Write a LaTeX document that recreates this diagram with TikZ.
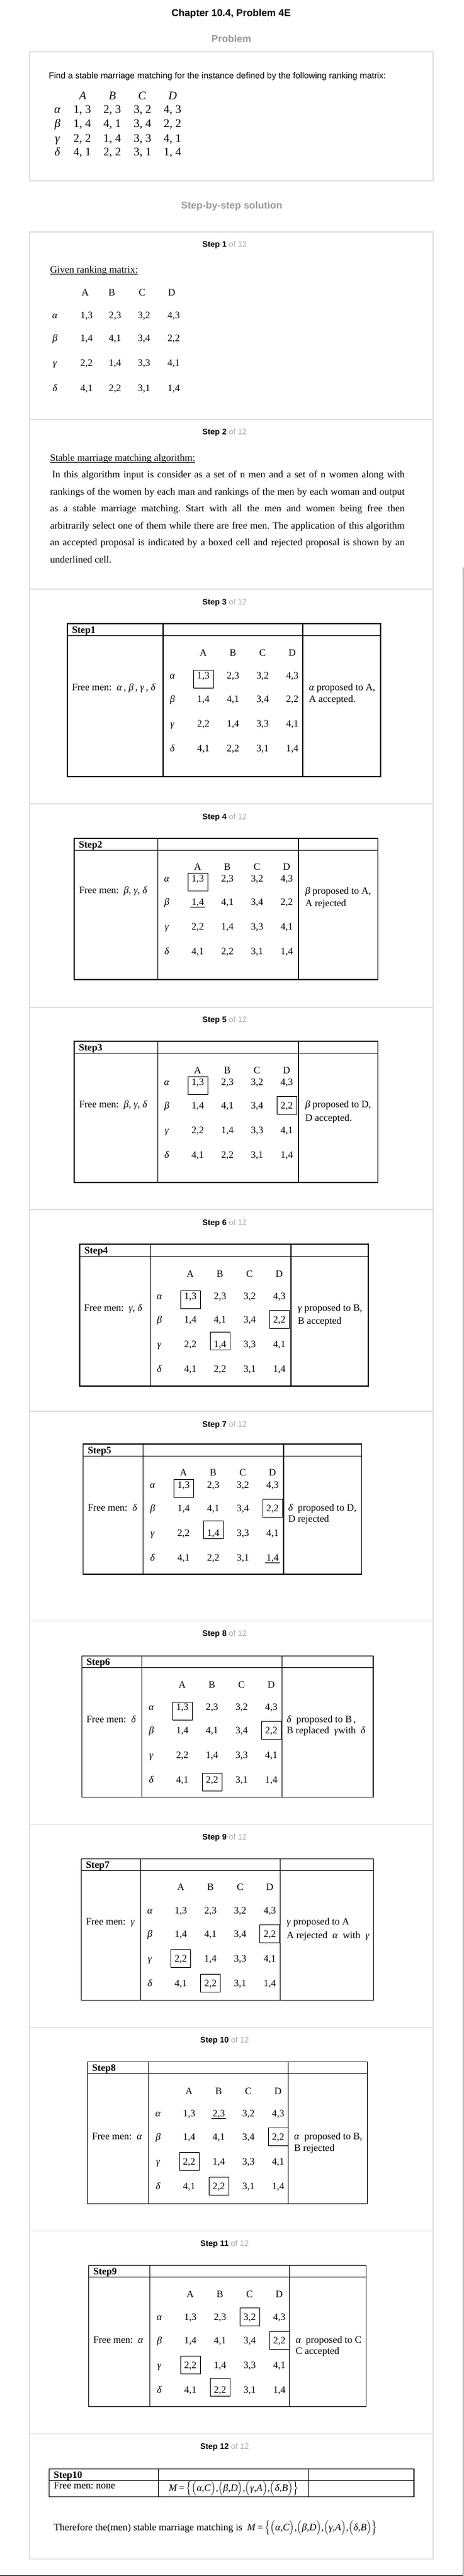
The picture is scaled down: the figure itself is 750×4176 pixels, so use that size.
\documentclass[tikz,border=0pt]{standalone}
\usepackage{fontspec}
\setmainfont{Liberation Serif}
\setsansfont{Liberation Sans}
\definecolor{framegray}{RGB}{222,222,222}
\definecolor{headgray}{RGB}{153,153,153}
\definecolor{ofgray}{RGB}{170,170,170}

\newcommand{\gk}[1]{\textit{#1}}
\newcommand{\pairtxt}[2]{#1,#2}
\newcommand{\pairsp}[2]{#1, #2}
\newcommand{\matchset}{\textit{M}\,=\,$\Big\{\Big($\gk{α},\gk{C}$\Big)$,$\Big($\gk{β},\gk{D}$\Big)$,$\Big($\gk{γ},\gk{A}$\Big)$,$\Big($\gk{δ},\gk{B}$\Big)\Big\}$}

\tikzset{
  every node/.style = {inner sep=0pt, outer sep=0pt},
  title/.style = {font=\sffamily\bfseries\fontsize{12}{14}\selectfont},
  sectionhead/.style = {font=\sffamily\bfseries\fontsize{12}{14}\selectfont, text=headgray},
  steplabel/.style = {font=\sffamily\fontsize{9.75}{12}\selectfont},
  bodytext/.style = {font=\fontsize{12}{14}\selectfont, anchor=base west},
  steptag/.style = {font=\bfseries\fontsize{12}{14}\selectfont, anchor=base west},
  cell/.style = {font=\fontsize{12}{14}\selectfont, anchor=base},
  bigcell/.style = {font=\fontsize{14.25}{16}\selectfont, anchor=base},
  frame/.style = {draw=framegray, line width=0.8pt},
  grid/.style = {draw=black, line width=0.8pt},
  cellbox/.style = {draw, line width=0.75pt, minimum width=24pt, minimum height=21.75pt},
  uline/.style = {line width=0.7pt},
}

% one ranking grid: name, x of greek column, y of row alpha, gap up to the head row
\newcommand{\rankgrid}[4]{%
  \foreach \w [count=\j] in {A,B,C,D}
    \node[cell] (#1-h\w) at ({#2+2+48*\j},{#3-#4+5.5}) {\w};
  \foreach \m/\dy/\g/\ea/\eb/\ec/\ed in
      {a/0/α/13/23/32/43, b/38/β/14/41/34/22,
       c/78/γ/22/14/33/41, d/118/δ/41/22/31/14}{
    \node[cell] (#1-\m) at (#2,{#3+\dy+5.5}) {\gk{\g}};
    \node[cell] (#1-\m A) at ({#2+50},{#3+\dy+5.5}) {\expandafter\pairtxt\ea};
    \node[cell] (#1-\m B) at ({#2+98},{#3+\dy+5.5}) {\expandafter\pairtxt\eb};
    \node[cell] (#1-\m C) at ({#2+146},{#3+\dy+5.5}) {\expandafter\pairtxt\ec};
    \node[cell] (#1-\m D) at ({#2+194},{#3+\dy+5.5}) {\expandafter\pairtxt\ed};
  }%
}
% frame of one step table: name, x1, x2, x3, x4, top, bottom, tag
\newcommand{\stepframe}[8]{%
  \draw[grid] (#2,#6) rectangle (#5,#7);
  \draw[grid] (#2,{#6+19.5}) -- (#5,{#6+19.5});
  \draw[grid] (#3,#6) -- (#3,#7) (#4,#6) -- (#4,#7);
  \node[steptag] (#1-tag) at ({#2+7.5},{#6+15}) {#8};
}
\newcommand{\boxcell}[2][0]{\node[cellbox, yshift={(5.5+#1)*0.75pt}] (#2-box) at (#2.base) {};}
\newcommand{\ulcell}[1]{\draw[uline] ([xshift=-1.5pt,yshift=-1.9pt]#1.base west) -- ([xshift=1.5pt,yshift=-1.9pt]#1.base east);}

\begin{document}
\begin{tikzpicture}[x=0.75pt, y=-0.75pt]
\fill[white] (0,0) rectangle (750,4176);
\useasboundingbox (0,0) rectangle (750,4176);

% headings and frames
\node[title] (chapter) at (374,22) {Chapter 10.4, Problem 4E};
\node[sectionhead] (problem) at (374.5,63) {Problem};
\node[sectionhead] (solution) at (375,334) {Step-by-step solution};
\draw[frame] (48,84) rectangle (701,293);
\draw[frame] (48,376) rectangle (701,4148);
\foreach \yy in {680,955,1303,1633,1961,2288,2627,2957,3286,3616,3945}
  \draw[frame] (48,\yy) -- (701,\yy);
\foreach \k/\yy in {1/397,2/701,3/977,4/1325,5/1654,6/1983,7/2310,8/2649,9/2979,10/3308,11/3638,12/3967}
  \node[steplabel] (lab\k) at (363.5,\yy) {\textbf{Step \k} \textcolor{ofgray}{of 12}};
\draw[line width=0.8pt] (749.4,920) -- (749.4,4175.4) -- (0,4175.4);

% problem
\node[bodytext, font=\sffamily\fontsize{10.5}{12}\selectfont] (ask) at (79,127.5)
  {Find a stable marriage matching for the instance defined by the following ranking matrix:};
\foreach \w/\xx in {A/134,B/182,C/230,D/279.5}
  \node[bigcell] (p-h\w) at (\xx,161.5) {\textit{\w}};
\foreach \m/\yy/\g/\ea/\eb/\ec/\ed in
    {a/183/α/13/23/32/43, b/206.5/β/14/41/34/22,
     c/230/γ/22/14/33/41, d/252/δ/41/22/31/14}{
  \node[bigcell] (p-\m) at (93,\yy) {\gk{\g}};
  \node[bigcell] (p-\m A) at (133,\yy) {\expandafter\pairsp\ea};
  \node[bigcell] (p-\m B) at (181.5,\yy) {\expandafter\pairsp\eb};
  \node[bigcell] (p-\m C) at (230.5,\yy) {\expandafter\pairsp\ec};
  \node[bigcell] (p-\m D) at (279,\yy) {\expandafter\pairsp\ed};
}

% step 1
\node[bodytext] (given) at (81,442) {Given ranking matrix:};
\draw[uline] ([yshift=-1.6pt]given.base west) -- ([yshift=-1.6pt]given.base east);
\foreach \w/\xx in {A/138,B/181,C/230,D/278}
  \node[cell] (g-h\w) at (\xx,479.5) {\w};
\foreach \m/\yy/\g/\ea/\eb/\ec/\ed in
    {a/516.5/α/13/23/32/43, b/553.5/β/14/41/34/22,
     c/593.5/γ/22/14/33/41, d/634.5/δ/41/22/31/14}{
  \node[cell] (g-\m) at (89,\yy) {\gk{\g}};
  \node[cell] (g-\m A) at (140,\yy) {\expandafter\pairtxt\ea};
  \node[cell] (g-\m B) at (186,\yy) {\expandafter\pairtxt\eb};
  \node[cell] (g-\m C) at (233,\yy) {\expandafter\pairtxt\ec};
  \node[cell] (g-\m D) at (281,\yy) {\expandafter\pairtxt\ed};
}

% step 2
\frenchspacing
\node[bodytext] (algo) at (81,747) {Stable marriage matching algorithm:};
\draw[uline] ([yshift=-1.6pt]algo.base west) -- ([yshift=-1.6pt]algo.base east);
\node[bodytext] (par1) at (81,774) {\makebox[430.5pt][s]{\hspace*{2.5pt}In this algorithm input is consider as a set of n men and a set of n women along with}};
\node[bodytext] (par2) at (81,802) {\makebox[430.5pt][s]{rankings of the women by each man and rankings of the men by each woman and output}};
\node[bodytext] (par3) at (81,829) {\makebox[430.5pt][s]{as a stable marriage matching. Start with all the men and women being free then}};
\node[bodytext] (par4) at (81,857) {\makebox[430.5pt][s]{arbitrarily select one of them while there are free men. The application of this algorithm}};
\node[bodytext] (par5) at (81,884) {\makebox[430.5pt][s]{an accepted proposal is indicated by a boxed cell and rejected proposal is shown by an}};
\node[bodytext] (par6) at (81,912) {underlined cell.};

% step 3
\stepframe{t1}{109}{264}{490}{616}{1011}{1259}{Step1}
\rankgrid{t1}{279}{1095}{37}
\boxcell[-6]{t1-aA}
\node[bodytext] (t1-free) at (116.5,1119) {Free men: \ \gk{α}\,, \gk{β}\,, \gk{γ}\,, \gk{δ}};
\node[bodytext] (t1-note) at (500,1119) {\gk{α} proposed to A,};
\node[bodytext] (t1-res) at (500,1138) {A accepted.};

% step 4
\stepframe{t2}{120}{255.5}{483}{611.5}{1359}{1588}{Step2}
\rankgrid{t2}{270}{1424}{19}
\boxcell[-6]{t2-aA}
\ulcell{t2-bA}
\node[bodytext] (t2-free) at (128,1448) {Free men: \ \gk{β}, \gk{γ}, \gk{δ}};
\node[bodytext] (t2-note) at (494,1449) {\gk{β} proposed to A,};
\node[bodytext] (t2-res) at (494,1469) {A rejected};

% step 5
\stepframe{t3}{120}{255.5}{483}{611.5}{1688}{1917}{Step3}
\rankgrid{t3}{270}{1754}{19}
\boxcell[-6]{t3-aA}
\boxcell{t3-bD}
\node[bodytext] (t3-free) at (128,1795) {Free men: \ \gk{β}, \gk{γ}, \gk{δ}};
\node[bodytext] (t3-note) at (494,1795) {\gk{β} proposed to D,};
\node[bodytext] (t3-res) at (494,1817) {D accepted.};

% step 6
\stepframe{t4}{129}{243.5}{471}{596}{2017}{2247}{Step4}
\rankgrid{t4}{258}{2101}{36}
\boxcell[-6]{t4-aA}
\boxcell{t4-bD}
\boxcell[5]{t4-cB}
\node[bodytext] (t4-free) at (136,2125) {Free men: \ \gk{γ}, \gk{δ}};
\node[bodytext] (t4-note) at (482,2125) {\gk{γ} proposed to B,};
\node[bodytext] (t4-res) at (482,2146) {B accepted};

% step 7
\stepframe{t5}{134.5}{231.6}{459}{585.6}{2341}{2552}{Step5}
\rankgrid{t5}{247}{2407}{20}
\boxcell[-6]{t5-aA}
\boxcell{t5-bD}
\boxcell[5]{t5-cB}
\ulcell{t5-dD}
\node[bodytext] (t5-free) at (142,2449) {Free men: \ \gk{δ}};
\node[bodytext] (t5-note) at (466.5,2449) {\gk{δ} \ proposed to D,};
\node[bodytext] (t5-res) at (466.5,2467) {D rejected};

% step 8
\stepframe{t6}{132.5}{229.7}{456.5}{604}{2684}{2913}{Step6}
\rankgrid{t6}{245}{2767}{36}
\boxcell[-7]{t6-aA}
\boxcell{t6-bD}
\boxcell[-4]{t6-dB}
\node[bodytext] (t6-free) at (140,2792) {Free men: \ \gk{δ}};
\node[bodytext] (t6-note) at (464,2792) {\gk{δ} \ proposed to B\,,};
\node[bodytext] (t6-res) at (464,2810) {B replaced \ \gk{γ}with \ \gk{δ}};

% step 9
\stepframe{t7}{131.6}{227.8}{453.6}{604.8}{3013}{3242}{Step7}
\rankgrid{t7}{242.6}{3097}{38}
\boxcell{t7-bD}
\boxcell{t7-cA}
\boxcell{t7-dB}
\node[bodytext] (t7-free) at (139,3120) {Free men: \ \gk{γ}};
\node[bodytext] (t7-note) at (464,3120) {\gk{γ} proposed to A};
\node[bodytext] (t7-res) at (464,3142) {A rejected \ \gk{α} \ with \ \gk{γ}};

% step 10
\stepframe{t8}{141.6}{240.7}{466.5}{594.7}{3342}{3572}{Step8}
\rankgrid{t8}{256}{3426}{36}
\boxcell{t8-bD}
\boxcell{t8-cA}
\boxcell{t8-dB}
\ulcell{t8-aB}
\node[bodytext] (t8-free) at (149,3468) {Free men: \ \gk{α}};
\node[bodytext] (t8-note) at (476,3468) {\gk{α} \ proposed to B,};
\node[bodytext] (t8-res) at (476,3487) {B rejected};

% step 11
\stepframe{t9}{143.5}{242.6}{468.4}{592.8}{3672}{3901}{Step9}
\rankgrid{t9}{258}{3756}{37}
\boxcell{t9-aC}
\boxcell{t9-bD}
\boxcell{t9-cA}
\boxcell[4]{t9-dB}
\node[bodytext] (t9-free) at (151,3798) {Free men: \ \gk{α}};
\node[bodytext] (t9-note) at (478.5,3798) {\gk{α} \ proposed to C};
\node[bodytext] (t9-res) at (478.5,3816) {C accepted};

% step 12
\stepframe{t10}{79.4}{256.5}{499.5}{670}{4002}{4047}{Step10}
\node[bodytext] (t10-free) at (87,4034) {Free men: none};
\node[cell] (t10-match) at (378,4038) {\matchset};
\node[bodytext] (answer) at (87,4102) {Therefore the(men) stable marriage matching is \ \matchset};
\end{tikzpicture}
\end{document}
